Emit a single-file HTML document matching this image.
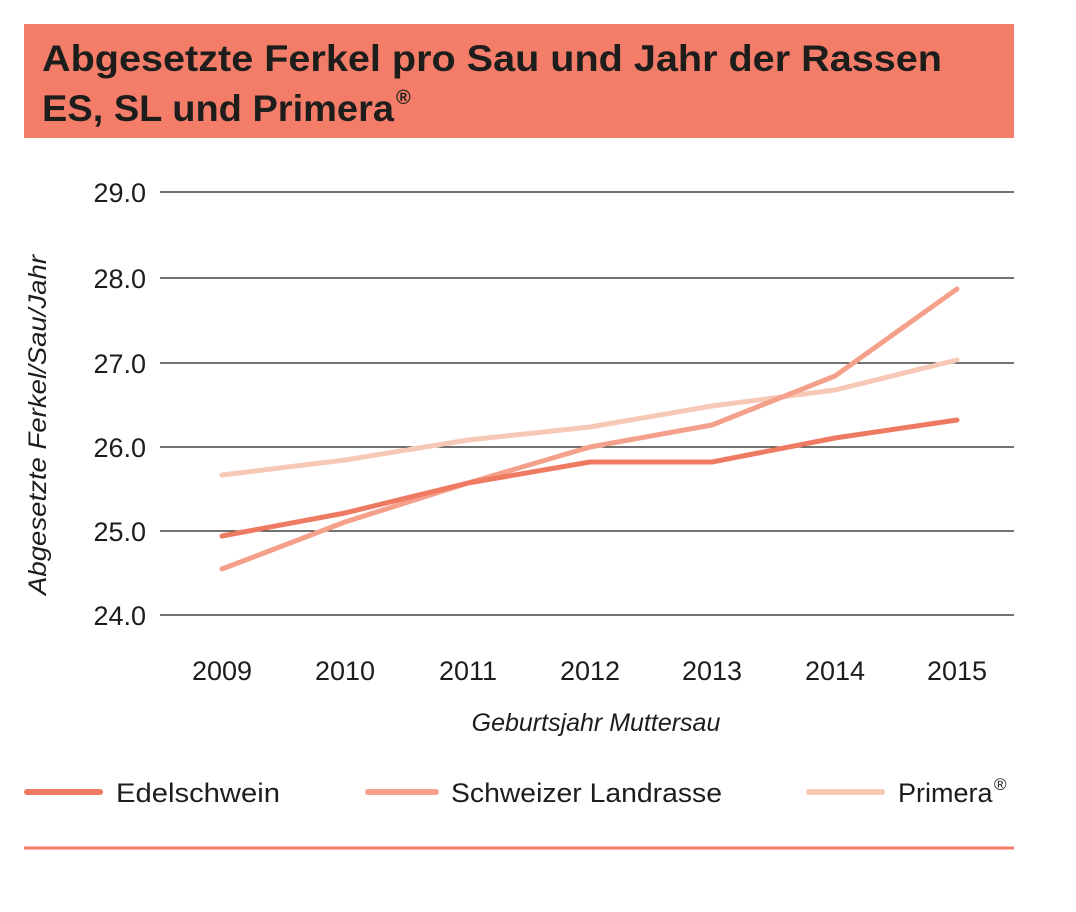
<!DOCTYPE html>
<html><head><meta charset="utf-8"><style>html,body{margin:0;padding:0;background:#fff}</style></head>
<body>
<svg width="1076" height="907" xmlns="http://www.w3.org/2000/svg" font-family="Liberation Sans, sans-serif">
<rect x="24" y="24" width="990" height="114" fill="#f47d69"/>
<text x="42" y="71" font-size="37" font-weight="bold" fill="#1d1d1b" textLength="900" lengthAdjust="spacingAndGlyphs">Abgesetzte Ferkel pro Sau und Jahr der Rassen</text>
<text x="42" y="121" font-size="37" font-weight="bold" fill="#1d1d1b" textLength="352" lengthAdjust="spacingAndGlyphs">ES, SL und Primera</text>
<text x="396" y="104" font-size="20" font-weight="bold" fill="#1d1d1b">®</text>
<g stroke="#1d1d1b" stroke-width="1.3">
<line x1="160" x2="1014" y1="192" y2="192"/><line x1="160" x2="1014" y1="278" y2="278"/>
<line x1="160" x2="1014" y1="363" y2="363"/><line x1="160" x2="1014" y1="447" y2="447"/>
<line x1="160" x2="1014" y1="531" y2="531"/><line x1="160" x2="1014" y1="615" y2="615"/>
</g>
<g font-size="27" fill="#1d1d1b" text-anchor="end">
<text x="146" y="202">29.0</text><text x="146" y="288">28.0</text><text x="146" y="373">27.0</text>
<text x="146" y="457">26.0</text><text x="146" y="541">25.0</text><text x="146" y="625">24.0</text>
</g>
<g font-size="27" fill="#1d1d1b" text-anchor="middle">
<text x="222" y="680">2009</text><text x="345" y="680">2010</text><text x="468" y="680">2011</text>
<text x="590" y="680">2012</text><text x="712" y="680">2013</text><text x="835" y="680">2014</text><text x="957" y="680">2015</text>
</g>
<text x="596" y="731" font-size="25" font-style="italic" fill="#1d1d1b" text-anchor="middle">Geburtsjahr Muttersau</text>
<text transform="translate(46,425) rotate(-90)" font-size="25" font-style="italic" fill="#1d1d1b" text-anchor="middle" textLength="340" lengthAdjust="spacingAndGlyphs">Abgesetzte Ferkel/Sau/Jahr</text>
<g fill="none" stroke-width="5" stroke-linejoin="round" stroke-linecap="round">
<polyline stroke="#f8c8b6" points="222,475 345,460 468,440 590,427 712,406 835,390 957,360"/>
<polyline stroke="#f4a08a" points="222,569 345,522 468,483 590,447 712,425 835,376 957,289"/>
<polyline stroke="#ef7a62" points="222,536 345,513 468,483 590,462 712,462 835,438 957,420"/>
</g>
<g stroke-width="6" stroke-linecap="round">
<line x1="27" x2="100" y1="792" y2="792" stroke="#ef7a62"/>
<line x1="368" x2="436" y1="792" y2="792" stroke="#f4a08a"/>
<line x1="809" x2="882" y1="792" y2="792" stroke="#f8c8b6"/>
</g>
<g font-size="27" fill="#1d1d1b">
<text x="116" y="802" textLength="164" lengthAdjust="spacingAndGlyphs">Edelschwein</text>
<text x="451" y="802" textLength="271" lengthAdjust="spacingAndGlyphs">Schweizer Landrasse</text>
<text x="898" y="802">Primera</text><text x="994" y="790" font-size="17">®</text>
</g>
<line x1="24" x2="1014" y1="848" y2="848" stroke="#f47d69" stroke-width="3"/>
</svg>
</body></html>
